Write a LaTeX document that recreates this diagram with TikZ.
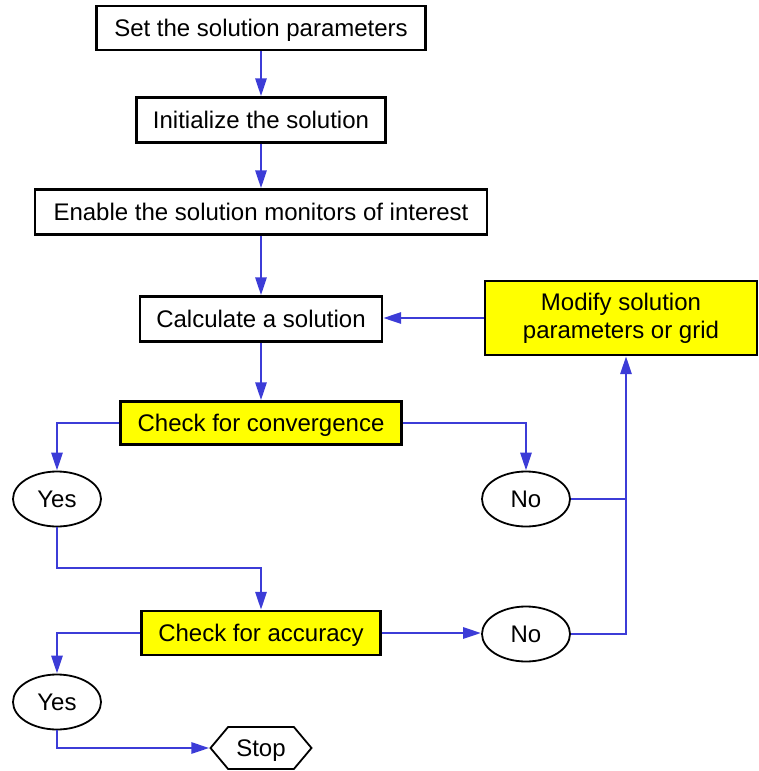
\documentclass[tikz,border=0pt]{standalone}
\usepackage{fontspec}
\setmainfont{Liberation Sans}
\usepackage{xcolor}
\usepackage{tikz}
\usetikzlibrary{arrows.meta,shapes.geometric,shapes.symbols}

\definecolor{flowblue}{RGB}{60,60,215}
\definecolor{checkyellow}{RGB}{255,255,0}

\tikzset{
	oneline/.style={text height=22pt, text depth=5pt},
	boxbase/.style={draw=black, line width=2.3pt, fill=white, inner sep=0pt, minimum height=44pt, align=center},
	procbox/.style={boxbase, oneline},
	checkbox/.style={procbox, fill=checkyellow},
	answer/.style={draw=black, line width=1.8pt, ellipse, fill=white, oneline, inner sep=0pt, minimum width=88pt, minimum height=55pt},
	stopsign/.style={draw=black, line width=1.8pt, signal, signal to=west and east, signal pointer angle=100, oneline, inner sep=0pt, minimum width=101pt, minimum height=42pt},
	link/.style={draw=flowblue, line width=2.8pt},
	flow/.style={link, -{Triangle[length=18pt,width=11pt]}}
}

\begin{document}
\begin{tikzpicture}[x=1pt, y=-1pt, font=\fontsize{24}{28}\selectfont]
				\useasboundingbox (0,0) rectangle (758,771);
	
				\node[procbox, minimum width=329pt] (set) at (261,28) {Set the solution parameters};
				\node[procbox, minimum width=249pt, minimum height=45pt] (init) at (261,120) {Initialize the solution};
				\node[procbox, minimum width=452pt, minimum height=45pt] (enable) at (261,212) {Enable the solution monitors of interest};
				\node[procbox, minimum width=242pt, minimum height=45pt] (calc) at (261,319) {Calculate a solution};
				\node[boxbase, fill=checkyellow, minimum width=272pt, minimum height=74pt] (modify) at (621,318) {Modify solution\\parameters or grid};
				\node[checkbox, minimum width=281pt, minimum height=43pt] (conv) at (261,423) {Check for convergence};
				\node[answer] (yes1) at (57,499) {Yes};
				\node[answer] (no1) at (526,499) {No};
				\node[checkbox, minimum width=239pt] (acc) at (261,633) {Check for accuracy};
				\node[answer] (no2) at (526,634) {No};
				\node[answer] (yes2) at (57,702) {Yes};
				\node[stopsign] (stop) at (261,748) {Stop};
	
				\coordinate (join) at (626,499);
				\coordinate (turn) at (261,568);
	
				\draw[flow] (set) -- (init);
				\draw[flow] (init) -- (enable);
				\draw[flow] (enable) -- (calc);
				\draw[flow] (modify.west) -- (modify.west -| calc.east);
				\draw[flow] (calc) -- (conv);
				\draw[flow] (conv.west) -| (yes1);
				\draw[flow] (conv.east) -| (no1);
				\draw[link] (no1.east) -- (join);
				\draw[flow] (no2.east) -| (join |- modify.south);
				\draw[flow] (yes1) |- (turn) -- (acc);
				\draw[flow] (acc.west) -| (yes2);
				\draw[flow] (acc.east) -- (acc.east -| no2.west);
				\draw[flow] (yes2) |- (stop.west);
			\end{tikzpicture}
\end{document}
